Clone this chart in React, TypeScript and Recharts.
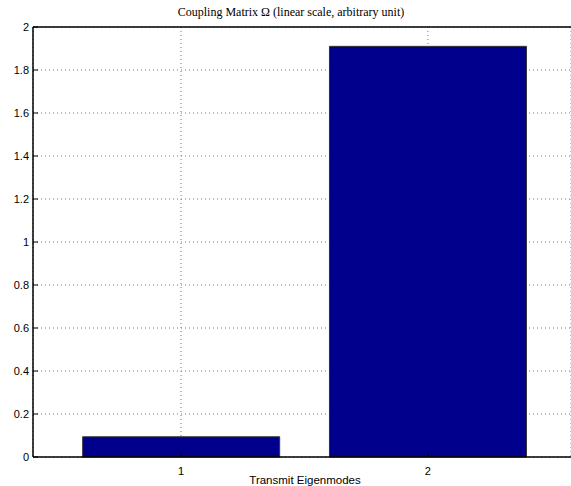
import {
  BarChart,
  Bar,
  XAxis,
  YAxis,
  CartesianGrid,
  ReferenceLine,
} from "recharts";

const modes = [1, 2];
const coupling = [0.094, 1.91];
const yTicks = [0, 0.2, 0.4, 0.6, 0.8, 1, 1.2, 1.4, 1.6, 1.8, 2];

const data = modes.map((m, i) => ({ mode: m, value: coupling[i] }));

const sans = "'Liberation Sans', Arial, sans-serif";
const serif = "'Liberation Serif', 'DejaVu Serif', serif";

// eslint-disable-next-line @typescript-eslint/no-explicit-any
function YTick(props: any) {
  const { x, y, payload } = props;
  return (
    <g>
      <line x1={x + 4} y1={y} x2={x + 9} y2={y} stroke="#000" />
      <text x={x} y={y} dy={4} textAnchor="end" fontSize={11} fontFamily={sans} fill="#000">
        {payload.value}
      </text>
    </g>
  );
}

// eslint-disable-next-line @typescript-eslint/no-explicit-any
function XTick(props: any) {
  const { x, y, payload } = props;
  return (
    <g>
      <line x1={x} y1={y - 8} x2={x} y2={y - 13} stroke="#000" />
      <text x={x} y={y} dy={10} textAnchor="middle" fontSize={11} fontFamily={sans} fill="#000">
        {payload.value}
      </text>
    </g>
  );
}

export default function App() {
  return (
    <div style={{ position: "absolute", left: 0, top: 0, background: "#fff" }}>
      <BarChart
        width={571}
        height={486}
        data={data}
        margin={{ top: 27, right: 0, left: 0, bottom: 0 }}
      >
        <text x={291} y={16} textAnchor="middle" fontSize={12} fontFamily={serif} fill="#000">
          Coupling Matrix Ω (linear scale, arbitrary unit)
        </text>
        <text x={305} y={484} textAnchor="middle" fontSize={11.5} fontFamily={sans} fill="#000">
          Transmit Eigenmodes
        </text>
        <CartesianGrid stroke="#777" strokeDasharray="1 3" />
        <XAxis
          dataKey="mode"
          type="number"
          domain={[0.4, 2.58]}
          ticks={modes}
          allowDataOverflow
          height={29}
          tickSize={0}
          tickMargin={8}
          stroke="#000"
          strokeWidth={1.5}
          tick={XTick}
        />
        <YAxis
          type="number"
          domain={[0, 2]}
          ticks={yTicks}
          width={33}
          tickSize={0}
          tickMargin={4}
          stroke="#000"
          strokeWidth={1.5}
          tick={YTick}
          interval={0}
        />
        <ReferenceLine y={2} stroke="#000" strokeWidth={1.5} />
        <Bar
          dataKey="value"
          fill="#00008c"
          stroke="#333"
          strokeWidth={1}
          barSize={197}
          isAnimationActive={false}
        />
      </BarChart>
    </div>
  );
}
